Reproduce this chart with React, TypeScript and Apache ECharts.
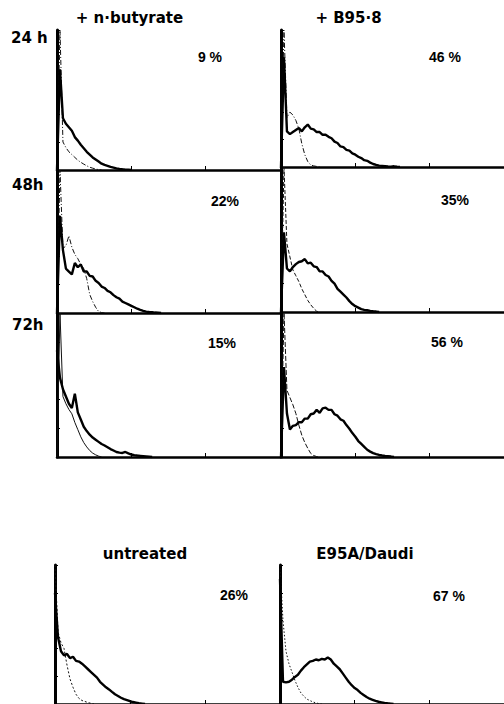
import React, { useEffect, useRef } from "react";
import * as echarts from "echarts";

// fluorescence channel (relative, 0–300 full scale)
const channels = [
  0, 4, 8, 12, 16, 20, 24, 28, 32, 36, 40, 44, 48, 52, 56, 60, 64, 68, 72, 76,
  80, 84, 88, 92, 96, 100, 104, 108, 112, 116, 120, 124, 128, 132, 136, 140,
  144, 148, 152, 156, 160,
];

const columnTitles = ["+ n·butyrate", "+ B95·8"];
const rowLabels = ["24 h", "48h", "72h"];
const bottomTitles = ["untreated", "E95A/Daudi"];
const percentLabels = ["9 %", "46 %", "22%", "35%", "15%", "56 %", "26%", "67 %"];

// relative cell number (% of panel height), thick = test, thin = control
const butyrate24Test = [0, 72, 37, 33, 30.5, 28, 23.5, 21, 18, 15.5, 13, 11, 9, 7.5, 6, 4.5, 3.6, 3, 2.2, 1.7, 1.2, 0.8, 0.5, 0.3, 0.2, 0];
const butyrate24Ctrl = [0, 100, 20, 16, 13, 11, 9, 7, 5.5, 4.2, 3, 2, 1.3, 0.7, 0.3, 0];
const b958h24Test = [0, 80, 26, 24, 25.5, 27, 28.5, 26, 29, 31, 28, 27.5, 25.5, 25.5, 23.5, 23.5, 22, 21, 18.5, 17.5, 15, 14.5, 12.5, 12, 10, 9, 7.5, 6.5, 5, 4.5, 3.2, 2.2, 1.5, 1, 0.8, 0.6, 0.4, 0.3, 0.5, 0.2, 0];
const b958h24Ctrl = [0, 100, 36, 40, 38, 34, 28, 17, 9, 4, 1.5, 0.8, 0.4, 0];
const butyrate48Test = [0, 68, 44, 31, 29, 27, 35, 32, 34, 29, 29, 26, 25.5, 22.5, 21, 18.5, 17.5, 15.5, 14.5, 12.5, 11, 10, 8, 7, 6, 5, 4, 3, 2.2, 1.5, 1, 0.7, 0.5, 0.3, 0.2, 0];
const butyrate48Ctrl = [0, 100, 45, 47, 54, 46, 41, 38, 34, 31, 24, 13, 8, 4, 1, 0.3, 0];
const b958h48Test = [0, 55, 30, 28, 31, 33, 34.5, 35, 36.5, 33.5, 34, 31.5, 31, 28, 28, 25.5, 24.5, 21.5, 19.5, 16, 14, 12, 10, 7.5, 5.5, 4, 3, 2, 1.5, 1.2, 0.8, 0.5, 0.3, 0];
const b958h48Ctrl = [0, 100, 47, 38, 29, 25, 21, 16, 12, 8, 5, 2.5, 0.5, 0];
const butyrate72Test = [74, 55, 47, 42, 37, 34, 44, 31, 26, 21, 18, 15.5, 13.5, 12, 10.5, 9, 8, 6.8, 5.5, 4.5, 3.5, 3, 2.8, 3.5, 2.5, 1.7, 1.3, 1, 0.8, 0.6, 0.4, 0.2, 0];
const butyrate72Ctrl = [0, 100, 42, 37, 33, 30, 24, 19, 14, 10, 7, 4.5, 2.7, 1.5, 0.6, 0];
const b958h72Test = [0, 62, 30, 19, 21.5, 22, 24, 24, 26.5, 26.5, 29.5, 30, 32.5, 30.5, 33.5, 34, 32.5, 32.5, 29.5, 28.5, 26, 25, 22, 19.5, 16.5, 14, 11, 9, 7, 5, 3.7, 2.7, 2, 1.4, 1, 0.7, 0.5, 0.3, 0];
const b958h72Ctrl = [0, 100, 46, 41, 36, 30, 22, 15, 10, 6, 2.5, 1, 0.3, 0];
const untreatedTest = [80, 48, 38, 35, 36, 33, 34, 31, 30.5, 29, 27, 25, 23, 21, 19, 16, 14, 12, 10.5, 8.7, 7, 5.8, 4.5, 3.5, 2.8, 2, 1.4, 1, 0.6, 0.3, 0];
const untreatedCtrl = [100, 52, 44, 40, 28, 18, 12, 7, 4, 2.5, 1.8, 1, 0.5, 0];
const e95aTest = [90, 16, 15.5, 16, 17.5, 19.5, 21, 24, 26.5, 28.5, 30.5, 31, 32, 31.5, 32.5, 32, 33.5, 32, 29, 27, 25, 22, 19, 16, 13.5, 11.5, 10, 8, 6.5, 5, 3.8, 3, 2.2, 1.6, 1.2, 0.8, 0.5, 0.3, 0];
const e95aCtrl = [100, 60, 38, 29, 23, 17, 12, 8, 5.5, 3.5, 2.5, 1.5, 0.8, 0.3, 0];

const testSeries = [butyrate24Test, b958h24Test, butyrate48Test, b958h48Test, butyrate72Test, b958h72Test, untreatedTest, e95aTest];
const ctrlSeries = [butyrate24Ctrl, b958h24Ctrl, butyrate48Ctrl, b958h48Ctrl, butyrate72Ctrl, b958h72Ctrl, untreatedCtrl, e95aCtrl];

const toPairs = (vals: number[]) => vals.map((v, i) => [channels[i], v]);

export default function App() {
  const ref = useRef<HTMLDivElement>(null);
  useEffect(() => {
    const chart = echarts.init(ref.current!, null, { renderer: "svg" });
    const layout = [
      { left: 57, top: 30, width: 223, height: 140, pct: [210, 57], dash: [5, 2, 1, 2] },
      { left: 281, top: 30, width: 223, height: 137, pct: [445, 57], dash: [5, 2, 1, 2] },
      { left: 57, top: 170, width: 223, height: 143, pct: [225, 201], dash: [5, 2, 1, 2] },
      { left: 281, top: 167, width: 223, height: 145, pct: [455, 200], dash: [4, 2] },
      { left: 57, top: 313, width: 223, height: 144, pct: [222, 343], dash: "solid" },
      { left: 281, top: 312, width: 223, height: 145, pct: [447, 342], dash: [5, 2] },
      { left: 55, top: 565, width: 225, height: 141, pct: [234, 595], dash: [2, 2] },
      { left: 280, top: 565, width: 224, height: 141, pct: [449, 596], dash: [1.5, 2] },
    ];
    const grids = layout.map((l) => ({ left: l.left, top: l.top, width: l.width, height: l.height }));
    const xAxes = layout.map((_, i) => ({
      type: "value",
      gridIndex: i,
      min: 0,
      max: 300,
      interval: 100,
      axisLine: { lineStyle: { color: "#000", width: 2.5 } },
      axisTick: { inside: true, length: 4, lineStyle: { color: "#000", width: 1 } },
      axisLabel: { show: false },
      splitLine: { show: false },
    }));
    const yAxes = layout.map((_, i) => ({
      type: "value",
      gridIndex: i,
      min: 0,
      max: 100,
      interval: 20,
      axisLine: { show: true, lineStyle: { color: "#000", width: 3 } },
      axisTick: { show: true, inside: true, length: 3, lineStyle: { color: "#000", width: 1 } },
      axisLabel: { show: false },
      splitLine: { show: false },
    }));
    const series: any[] = [];
    layout.forEach((l, i) => {
      series.push({
        type: "line",
        xAxisIndex: i,
        yAxisIndex: i,
        data: toPairs(ctrlSeries[i]),
        showSymbol: false,
        symbol: "none",
        lineStyle: { color: "#111", width: 1, type: l.dash },
        z: 3,
      });
      series.push({
        type: "line",
        xAxisIndex: i,
        yAxisIndex: i,
        data: toPairs(testSeries[i]),
        showSymbol: false,
        symbol: "none",
        lineStyle: { color: "#000", width: 2.4 },
        z: 4,
      });
    });
    const bold = { fontFamily: "DejaVu Sans", fontWeight: "bold", fontSize: 15, fill: "#000" };
    const txt = (text: string, x: number, y: number, align: string, style: any) => ({
      type: "text",
      x,
      y,
      style: { ...style, text, textAlign: align, align, textVerticalAlign: "middle", verticalAlign: "middle" },
    });
    const graphics: any[] = [
      txt(columnTitles[0], 129.5, 18, "center", bold),
      txt(columnTitles[1], 348.5, 18, "center", bold),
      txt(rowLabels[0], 11, 37.5, "left", bold),
      txt(rowLabels[1], 12, 185, "left", bold),
      txt(rowLabels[2], 12, 325, "left", bold),
      txt(bottomTitles[0], 145, 554, "center", bold),
      txt(bottomTitles[1], 365, 554, "center", bold),
    ];
    layout.forEach((l, i) => {
      graphics.push(
        txt(percentLabels[i], l.pct[0], l.pct[1], "center", {
          fontFamily: "Liberation Sans",
          fontWeight: "bold",
          fontSize: 14,
          fill: "#000",
        })
      );
    });
    chart.setOption({
      animation: false,
      backgroundColor: "#fff",
      grid: grids,
      xAxis: xAxes,
      yAxis: yAxes,
      series,
      graphic: graphics,
    });
    return () => chart.dispose();
  }, []);
  return <div ref={ref} style={{ position: "absolute", left: 0, top: 0, width: 504, height: 704 }} />;
}
